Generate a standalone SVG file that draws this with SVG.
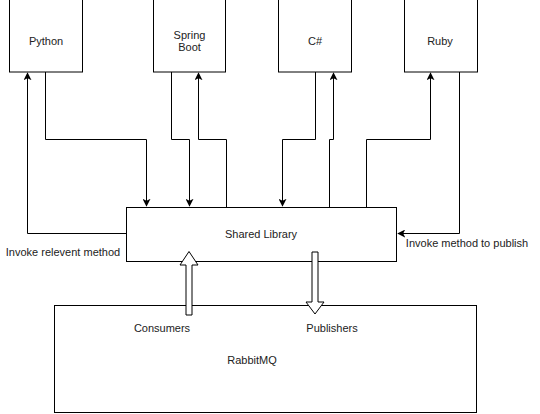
<svg xmlns="http://www.w3.org/2000/svg" width="540" height="414" viewBox="0 0 540 414">
<defs>
<style>
.box{fill:#fff;stroke:#000;stroke-width:1}
.t{font-family:"Liberation Sans",Arial,sans-serif;font-size:11px;fill:#222;text-anchor:middle}
.c{fill:none;stroke:#000;stroke-width:1}
.blk{fill:#fff;stroke:#000;stroke-width:1}
</style>
<marker id="ah" viewBox="0 0 10 10" refX="9" refY="5" markerWidth="8" markerHeight="8" markerUnits="userSpaceOnUse" orient="auto">
<path d="M0,0 L10,5 L0,10 L2.5,5 Z" fill="#000"/>
</marker>
</defs>
<rect width="540" height="414" fill="#fff"/>
<g id="python"><rect class="box" x="9.5" y="-0.5" width="73" height="72.5"/><text class="t" x="46" y="45">Python</text></g>
<g id="spring"><rect class="box" x="153.5" y="-0.5" width="72" height="72.5"/><text class="t" x="189.5" y="39">Spring</text><text class="t" x="189.5" y="51">Boot</text></g>
<g id="csharp"><rect class="box" x="278.5" y="-0.5" width="73" height="72.5"/><text class="t" x="315" y="45">C#</text></g>
<g id="ruby"><rect class="box" x="404.5" y="-0.5" width="73" height="72.5"/><text class="t" x="440" y="45">Ruby</text></g>
<g id="shared"><rect class="box" x="126.5" y="207.5" width="270" height="54"/><text class="t" x="261" y="238">Shared Library</text></g>
<g id="rabbitmq"><rect class="box" x="54.5" y="305.5" width="422" height="107"/><text class="t" x="252" y="364">RabbitMQ</text><text class="t" x="162" y="332">Consumers</text><text class="t" x="332" y="332">Publishers</text></g>
<g id="connectors">
<path class="c" d="M45.5,72 V139.5 H146.5 V206" marker-end="url(#ah)"/>
<path class="c" d="M126,233.5 H27.5 V73" marker-end="url(#ah)"/>
<path class="c" d="M171.5,72 V139.5 H189.5 V206" marker-end="url(#ah)"/>
<path class="c" d="M226.5,207 V139.5 H198.5 V73" marker-end="url(#ah)"/>
<path class="c" d="M315.5,72 V139.5 H282.5 V206" marker-end="url(#ah)"/>
<path class="c" d="M329.5,207 V139.5 H333.5 V73" marker-end="url(#ah)"/>
<path class="c" d="M366.5,207 V139.5 H430.5 V73" marker-end="url(#ah)"/>
<path class="c" d="M459.5,72 V233.5 H398" marker-end="url(#ah)"/>
<path class="blk" d="M186,315 V265 H180 L189,251.5 L198,265 H192 V315 Z"/>
<path class="blk" d="M312,252 V302 H306 L315,314 L324,302 H318 V252 Z"/>
</g>
<text class="t" x="63" y="256">Invoke relevent method</text>
<text class="t" x="467" y="247">Invoke method to publish</text>
</svg>
